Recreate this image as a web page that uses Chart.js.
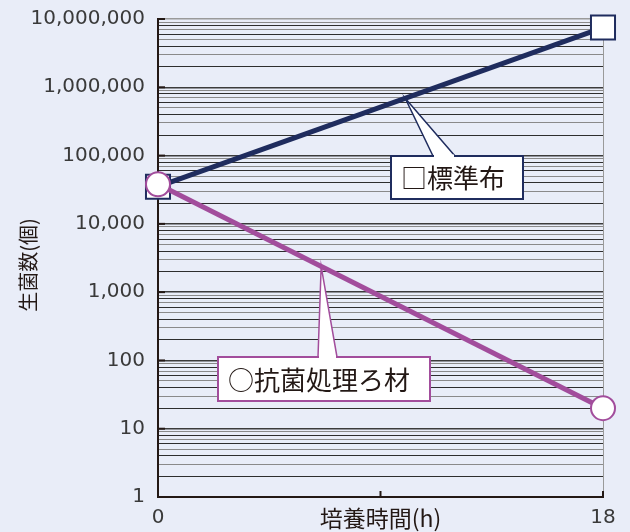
<!DOCTYPE html>
<html>
<head>
<meta charset="utf-8">
<script src="https://cdn.jsdelivr.net/npm/chart.js@4.4.1/dist/chart.umd.min.js"></script>
<style>
    html, body { margin: 0; padding: 0; background: #e9edf8; }
    #wrap { position: relative; width: 630px; height: 532px; }
</style>
</head>
<body>
<div id="wrap"><canvas id="bacteriaChart" width="630" height="532"></canvas></div>
<script>
// data
const hours = [0, 18];
const standardCloth = [35000, 7500000];   // □標準布
const antibacterial = [38000, 20];        // ○抗菌処理ろ材
const yMajorTicks = [1, 10, 100, 1000, 10000, 100000, 1000000, 10000000];
const xTicks = [0, 9, 18];
const xTickLabels = ["0", "", "18"];
const seriesNames = ["□標準布", "○抗菌処理ろ材"];
const xTitle = "培養時間(h)";
const yTitle = "生菌数(個)";

const NAVY = "#1f2c5e";
const PURPLE = "#a24d9c";
const INK = "#231815";
const CJK = "'Noto Sans CJK JP', sans-serif";

// all log grid values (1,2..9,10,20..)
const yAllTicks = [];
for (let i = 0; i < yMajorTicks.length - 1; i++) {
    for (let m = 1; m <= 9; m++) yAllTicks.push(yMajorTicks[i] * m);
}
yAllTicks.push(yMajorTicks[yMajorTicks.length - 1]);

function isMajor(v) {
    return yMajorTicks.includes(v);
}

// value on a log line between the two points at a given hour
function lineValueAt(series, h) {
    const t = (h - hours[0]) / (hours[1] - hours[0]);
    return series[0] * Math.pow(series[1] / series[0], t);
}

// background + axis titles + tick marks + callouts
const decorPlugin = {
    id: "decor",
    beforeDraw(chart) {
        const c = chart.ctx;
        c.save();
        c.fillStyle = "#e9edf8";
        c.fillRect(0, 0, chart.width, chart.height);
        c.restore();
    },
    afterDatasetsDraw(chart) {
        const c = chart.ctx;
        const xs = chart.scales.x, ys = chart.scales.y;
        const area = chart.chartArea;

        // tick marks
        c.save();
        c.strokeStyle = INK;
        c.lineWidth = 2;
        yMajorTicks.forEach(v => {
            const y = ys.getPixelForValue(v);
            c.beginPath();
            c.moveTo(area.left, y);
            c.lineTo(area.left + 7, y);
            c.stroke();
        });
        xTicks.slice(1).forEach(v => {
            const x = xs.getPixelForValue(v);
            c.beginPath();
            c.moveTo(x, area.bottom);
            c.lineTo(x, area.bottom - 6);
            c.stroke();
        });
        c.restore();

        // callouts
        drawCallout(c, xs.getPixelForValue(10), ys.getPixelForValue(lineValueAt(standardCloth, 10)),
            { l: 391, t: 156, r: 523, b: 199 }, 433, 455, NAVY, seriesNames[0]);
        drawCallout(c, xs.getPixelForValue(6.6), ys.getPixelForValue(lineValueAt(antibacterial, 6.6)),
            { l: 218, t: 357, r: 430, b: 401 }, 318, 337, PURPLE, seriesNames[1]);

        // axis titles
        c.save();
        c.fillStyle = INK;
        c.font = "23px " + CJK;
        c.textAlign = "center";
        c.textBaseline = "middle";
        c.fillText(xTitle, (area.left + area.right) / 2, 518);
        c.translate(28, 265);
        c.rotate(-Math.PI / 2);
        c.font = "20px " + CJK;
        c.fillText(yTitle, 0, 0);
        c.restore();
    }
};

function drawCallout(c, tipX, tipY, box, baseL, baseR, color, text) {
    c.save();
    // wedge
    c.beginPath();
    c.moveTo(tipX, tipY);
    c.lineTo(baseR, box.t + 1);
    c.lineTo(baseL, box.t + 1);
    c.closePath();
    c.fillStyle = "#ffffff";
    c.fill();
    c.strokeStyle = color;
    c.lineWidth = 1.5;
    c.beginPath();
    c.moveTo(baseL, box.t);
    c.lineTo(tipX, tipY);
    c.lineTo(baseR, box.t);
    c.stroke();
    // box
    c.fillStyle = "#ffffff";
    c.fillRect(box.l, box.t, box.r - box.l, box.b - box.t);
    c.lineWidth = 2;
    c.strokeRect(box.l, box.t, box.r - box.l, box.b - box.t);
    // wipe the box border under the wedge opening
    c.fillRect(baseL + 1, box.t - 1.5, baseR - baseL - 2, 3);
    c.fillStyle = INK;
    c.font = "26px " + CJK;
    c.textAlign = "left";
    c.textBaseline = "middle";
    c.fillText(text, box.l + 10, (box.t + box.b) / 2 + 1);
    c.restore();
}

const ctx = document.getElementById("bacteriaChart").getContext("2d");
new Chart(ctx, {
    type: "line",
    data: {
        datasets: [{
            label: seriesNames[0],
            data: hours.map((h, i) => ({ x: h, y: standardCloth[i] })),
            borderColor: NAVY,
            borderWidth: 5,
            pointStyle: "rect",
            pointRadius: 17,
            pointBorderWidth: 2,
            pointBorderColor: NAVY,
            pointBackgroundColor: "#ffffff",
            clip: false,
            order: 2
        }, {
            label: seriesNames[1],
            data: hours.map((h, i) => ({ x: h, y: antibacterial[i] })),
            borderColor: PURPLE,
            borderWidth: 5,
            pointStyle: "circle",
            pointRadius: 12,
            pointBorderWidth: 2,
            pointBorderColor: PURPLE,
            pointBackgroundColor: "#ffffff",
            clip: false,
            order: 1
        }]
    },
    options: {
        responsive: false,
        animation: false,
        layout: { padding: { top: 17, right: 27, left: 0, bottom: 0 } },
        plugins: {
            legend: { display: false },
            tooltip: { enabled: false }
        },
        scales: {
            x: {
                type: "linear",
                min: 0,
                max: 18,
                afterBuildTicks: scale => { scale.ticks = xTicks.map(v => ({ value: v })); },
                afterFit: scale => {
                    scale.height = 35;
                    scale.paddingLeft = 0;
                    scale.paddingRight = 0;
                },
                border: { display: true, color: INK, width: 2 },
                grid: {
                    drawTicks: false,
                    color: c => (c.tick && c.tick.value === 18 ? "#9a9a9a" : "rgba(0,0,0,0)"),
                    lineWidth: 1
                },
                ticks: {
                    autoSkip: false,
                    maxRotation: 0,
                    padding: 9,
                    color: "#3a3a3a",
                    font: { family: "'DejaVu Sans'", size: 20 },
                    callback: value => xTickLabels[xTicks.indexOf(value)] || ""
                }
            },
            y: {
                type: "logarithmic",
                min: 1,
                max: 10000000,
                afterBuildTicks: scale => { scale.ticks = yAllTicks.map(v => ({ value: v })); },
                afterFit: scale => {
                    scale.width = 158;
                    scale.paddingTop = 0;
                    scale.paddingBottom = 0;
                },
                border: { display: true, color: INK, width: 2 },
                grid: {
                    drawTicks: false,
                    color: c => {
                        const v = c.tick && c.tick.value;
                        if (v === 10000000) return "#9a9a9a";
                        if (isMajor(v)) return "#3c3c3c";
                        const m = Math.round(v / Math.pow(10, Math.floor(Math.log10(v) + 1e-9)));
                        return m % 2 === 0 ? "#2e2e2e" : "#8a8a8a";
                    },
                    lineWidth: c => (c.tick && isMajor(c.tick.value) ? 1.5 : 1)
                },
                ticks: {
                    autoSkip: false,
                    padding: 13,
                    color: "#3a3a3a",
                    font: { family: "'DejaVu Sans'", size: 20 },
                    callback: value => (isMajor(value) ? value.toLocaleString("en-US") : "")
                }
            }
        }
    },
    plugins: [decorPlugin]
});
</script>
</body>
</html>
